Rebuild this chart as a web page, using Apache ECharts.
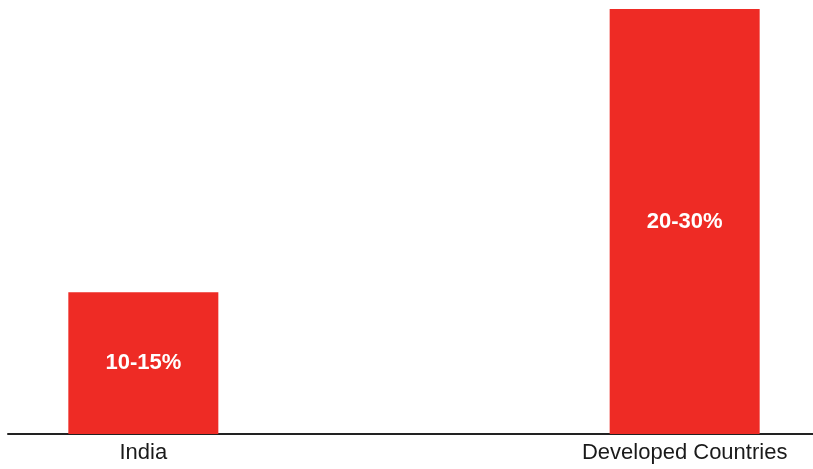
<!DOCTYPE html>
<html>
<head>
<meta charset="utf-8">
<script src="https://cdn.jsdelivr.net/npm/echarts@6/dist/echarts.min.js"></script>
<style>
html,body{margin:0;padding:0;background:#fff;}
#chart{width:813px;height:469px;}
</style>
</head>
<body>
<div id="chart"></div>
<script>
// Categories (middle slot is an empty spacer between the two bars)
const categories = ['India', '', 'Developed Countries'];
// Relative bar heights
const values = [10, null, 30];
// Labels shown inside the bars
const barLabels = ['10-15%', '', '20-30%'];

const chart = echarts.init(document.getElementById('chart'));
chart.setOption({
  animation: false,
  grid: { left: 8, width: 812, top: 9, bottom: 35, containLabel: false, outerBoundsMode: 'none' },
  xAxis: {
    type: 'category',
    data: categories,
    axisLine: { show: true, lineStyle: { color: '#222', width: 2 } },
    axisTick: { show: false },
    axisLabel: {
      color: '#1a1a1a', fontSize: 22, fontFamily: 'Liberation Sans, Arial, sans-serif',
      margin: 8, interval: 0
    }
  },
  yAxis: {
    type: 'value', min: 0, max: 30,
    show: false,
    splitLine: { show: false }
  },
  series: [{
    type: 'bar',
    data: values,
    barWidth: 150,
    itemStyle: { color: '#EE2B25' },
    label: {
      show: true,
      position: 'inside',
      color: '#fff',
      fontWeight: 'bold',
      fontSize: 22,
      fontFamily: 'Liberation Sans, Arial, sans-serif',
      formatter: p => barLabels[p.dataIndex]
    }
  }]
});
</script>
</body>
</html>
